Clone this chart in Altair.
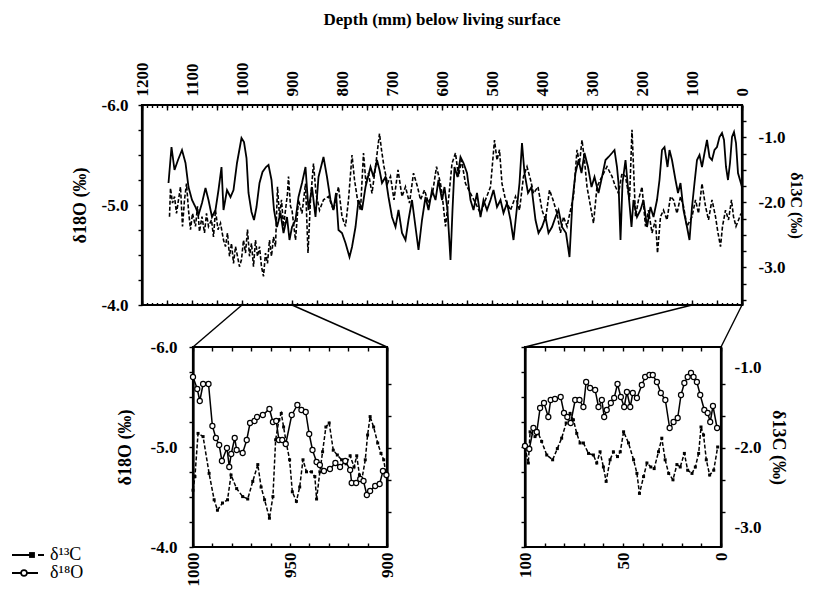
import altair as alt
import pandas as pd

FONT = "Liberation Serif"

TITLE = "Depth (mm) below living surface"
O18_TITLE = "δ18O (‰)"
C13_TITLE = "δ13C (‰)"
LEGEND_LABELS = ["δ¹³C", "δ¹⁸O"]

# ---------------- data (depth mm, value per mil) ----------------
TOP_O18 = [
    (1147, -5.22), (1141, -5.58), (1135, -5.35), (1128, -5.45), (1120, -5.55), (1113, -5.42),
    (1107, -5.18), (1100, -5.05), (1093, -4.98), (1087, -4.90), (1080, -5.02), (1073, -5.17),
    (1067, -5.05), (1060, -4.88), (1053, -4.95), (1047, -5.15), (1041, -5.38), (1037, -4.95),
    (1030, -5.15), (1023, -5.08), (1017, -5.15), (1010, -5.42), (1001, -5.67), (996, -5.63),
    (991, -5.47), (987, -5.12), (981, -4.93), (976, -4.85), (971, -4.98), (965, -5.22),
    (959, -5.33), (952, -5.38), (947, -5.40), (941, -5.25), (936, -4.95), (930, -4.78),
    (923, -4.92), (917, -4.72), (910, -4.88), (905, -4.65), (900, -4.78), (893, -4.85),
    (887, -5.08), (880, -5.22), (873, -5.38), (867, -4.95), (860, -5.18), (853, -4.88),
    (847, -5.28), (837, -5.48), (830, -5.28), (823, -5.05), (817, -4.95), (812, -5.12),
    (807, -4.75), (800, -4.72), (793, -4.62), (785, -4.48), (780, -4.58), (773, -4.78),
    (767, -5.05), (760, -4.95), (753, -5.18), (743, -5.38), (737, -5.28), (730, -5.45),
    (725, -5.35), (720, -5.22), (713, -5.28), (707, -5.08), (700, -4.88), (693, -4.78),
    (687, -4.95), (680, -4.72), (673, -4.65), (667, -4.85), (660, -5.05), (653, -4.78),
    (647, -4.55), (640, -4.85), (633, -5.08), (627, -4.95), (620, -5.15), (613, -5.05),
    (607, -5.25), (600, -5.05), (595, -5.18), (589, -4.95), (583, -4.45), (579, -4.95),
    (575, -5.38), (569, -5.28), (563, -5.48), (557, -5.42), (550, -5.32), (543, -5.05),
    (537, -4.95), (530, -5.12), (523, -4.88), (517, -5.05), (510, -4.95), (503, -5.05),
    (497, -5.15), (490, -4.98), (483, -5.05), (477, -4.92), (470, -5.02), (463, -4.85),
    (457, -4.65), (450, -4.98), (445, -5.22), (440, -5.62), (435, -5.32), (428, -5.12),
    (421, -5.18), (413, -4.85), (407, -4.72), (400, -4.78), (393, -4.88), (387, -4.72),
    (380, -4.78), (373, -4.88), (367, -4.95), (360, -4.78), (352, -4.72), (345, -4.48),
    (339, -5.05), (333, -5.32), (327, -5.45), (321, -5.32), (315, -5.52), (308, -5.38),
    (301, -5.18), (295, -5.28), (287, -5.12), (280, -5.28), (273, -5.45), (267, -5.48),
    (260, -5.52), (255, -5.55), (250, -5.38), (247, -5.22), (243, -4.65), (239, -5.22),
    (233, -5.45), (227, -5.12), (221, -4.78), (217, -5.05), (210, -4.88), (203, -4.95),
    (197, -5.05), (190, -4.78), (183, -4.98), (177, -4.88), (170, -5.05), (165, -5.25),
    (160, -5.55), (155, -5.58), (149, -5.38), (145, -5.55), (140, -5.45), (133, -5.25),
    (128, -5.12), (123, -5.22), (117, -4.95), (110, -4.78), (105, -4.65), (100, -4.98),
    (95, -5.22), (90, -5.45), (85, -5.50), (80, -5.38), (75, -5.52), (70, -5.65),
    (65, -5.48), (60, -5.45), (55, -5.55), (50, -5.58), (45, -5.68), (40, -5.72),
    (36, -5.65), (32, -5.38), (28, -5.25), (24, -5.42), (20, -5.68), (16, -5.73),
    (12, -5.62), (8, -5.32), (4, -5.25), (0, -5.18),
]

TOP_C13 = [
    (1145, -2.22), (1143, -1.78), (1139, -2.01), (1135, -1.91), (1131, -2.17), (1127, -1.96),
    (1123, -1.76), (1119, -2.37), (1115, -1.96), (1111, -1.71), (1107, -2.12), (1103, -2.42),
    (1099, -2.17), (1093, -2.37), (1089, -2.06), (1085, -2.45), (1080, -2.22), (1075, -2.47),
    (1071, -2.17), (1067, -2.37), (1061, -2.27), (1057, -2.53), (1053, -2.12), (1048, -2.42),
    (1043, -2.32), (1037, -2.58), (1033, -2.68), (1029, -2.47), (1025, -2.83), (1021, -2.63),
    (1017, -2.94), (1013, -2.68), (1009, -2.83), (1005, -2.99), (1001, -2.88), (997, -2.58),
    (993, -2.78), (989, -2.42), (985, -2.83), (981, -2.63), (977, -2.99), (973, -2.58),
    (969, -2.83), (965, -2.68), (961, -2.99), (957, -3.14), (953, -2.78), (949, -2.94),
    (945, -2.58), (941, -2.83), (937, -2.53), (933, -2.68), (929, -1.76), (925, -2.22),
    (921, -1.96), (917, -2.37), (913, -2.12), (909, -1.86), (907, -1.60), (903, -2.06),
    (900, -2.12), (893, -2.58), (887, -1.96), (880, -2.17), (873, -1.71), (868, -2.78),
    (863, -1.96), (857, -1.40), (852, -1.86), (845, -2.12), (837, -1.96), (827, -1.91),
    (817, -2.12), (807, -1.76), (800, -2.22), (793, -2.37), (787, -1.96), (780, -1.27),
    (775, -1.65), (769, -1.96), (763, -2.12), (757, -1.24), (752, -1.71), (747, -1.55),
    (740, -1.86), (733, -1.45), (725, -0.94), (721, -1.19), (716, -1.45), (709, -1.71),
    (703, -1.60), (696, -1.96), (688, -1.50), (680, -1.91), (673, -1.76), (665, -2.01),
    (657, -1.55), (649, -1.76), (643, -1.96), (635, -1.81), (627, -2.01), (619, -1.86),
    (611, -1.45), (603, -1.71), (600, -1.86), (593, -2.37), (587, -1.96), (580, -1.40),
    (573, -1.24), (567, -1.60), (561, -1.35), (553, -1.71), (543, -1.86), (533, -2.01),
    (523, -2.17), (513, -1.96), (503, -1.76), (495, -1.04), (490, -1.35), (485, -1.19),
    (480, -1.71), (473, -1.96), (463, -2.12), (453, -1.91), (445, -2.12), (437, -1.60),
    (430, -1.45), (423, -1.65), (417, -1.86), (408, -1.76), (400, -2.12), (393, -2.27),
    (385, -1.81), (378, -1.96), (370, -2.17), (363, -2.47), (357, -2.22), (350, -2.37),
    (343, -2.12), (337, -1.91), (330, -1.19), (325, -1.40), (320, -1.04), (315, -1.35),
    (310, -1.76), (303, -2.06), (297, -2.32), (290, -1.76), (280, -1.60), (270, -1.45),
    (260, -1.60), (253, -1.76), (247, -1.86), (240, -1.55), (233, -1.60), (225, -1.96),
    (220, -0.88), (217, -1.45), (213, -2.22), (207, -1.96), (200, -1.76), (193, -2.37),
    (187, -2.12), (180, -2.47), (173, -2.27), (169, -2.78), (163, -2.22), (157, -2.12),
    (150, -2.27), (143, -1.91), (137, -1.96), (130, -2.17), (123, -1.91), (117, -2.06),
    (110, -2.37), (100, -2.22), (93, -1.96), (87, -2.17), (80, -1.71), (73, -2.06),
    (67, -2.27), (60, -1.96), (53, -2.22), (48, -2.47), (43, -2.68), (39, -2.37),
    (33, -2.12), (27, -2.27), (21, -1.96), (17, -2.22), (12, -2.37), (7, -2.27), (2, -2.17),
]

INS1_O18 = [
    (1000, -5.70), (997.8, -5.58), (996.5, -5.46), (994.8, -5.63), (992.0, -5.63),
    (990.0, -5.21), (988.2, -5.09), (986.5, -5.02), (985.1, -4.86), (982.5, -4.99),
    (981.3, -4.80), (980.3, -4.93), (978.5, -5.09), (977.5, -4.97), (974.4, -4.94),
    (972.3, -5.07), (970.6, -5.24), (968.3, -5.26), (967.0, -5.30), (964.0, -5.32),
    (960.6, -5.38), (958.8, -5.25), (957.1, -5.26), (955.7, -5.07), (954.0, -5.07),
    (952.2, -5.03), (949.1, -5.32), (946.2, -5.42), (944.1, -5.37), (941.9, -5.35),
    (940.1, -5.13), (938.4, -4.97), (936.3, -4.85), (934.6, -4.82), (932.5, -4.76),
    (929.4, -4.78), (926.6, -4.84), (924.2, -4.80), (921.5, -4.86), (919.0, -4.77),
    (918.2, -4.64), (915.9, -4.64), (913.8, -4.68), (912.1, -4.66), (910.4, -4.52),
    (908.7, -4.56), (906.1, -4.61), (903.8, -4.63), (902.1, -4.76), (900.3, -4.72),
]

INS1_C13 = [
    (1000, -2.53), (999, -2.36), (997.4, -1.82), (994.8, -1.86), (991.7, -2.32),
    (989.1, -2.65), (987.4, -2.78), (984.8, -2.69), (982.2, -2.65), (980.4, -2.34),
    (977.5, -2.51), (974.4, -2.61), (971.8, -2.64), (969.2, -2.42), (966.6, -2.21),
    (964.9, -2.49), (963.1, -2.65), (960.6, -2.88), (958.8, -2.61), (957.4, -1.90),
    (955.7, -1.65), (954.5, -1.57), (953.3, -1.74), (951.9, -1.94), (950.2, -2.15),
    (948.8, -2.55), (946.7, -2.67), (945.0, -2.49), (943.3, -2.15), (941.5, -2.30),
    (938.9, -2.30), (937.2, -2.36), (936.3, -2.64), (934.6, -2.30), (933.2, -2.05),
    (931.5, -1.74), (929.8, -1.69), (927.7, -2.03), (925.6, -2.09), (923.4, -2.15),
    (921.1, -2.20), (919.0, -2.10), (917.0, -2.24), (915.6, -2.10), (914.2, -2.34),
    (913.0, -2.40), (911.2, -2.15), (910.0, -1.84), (908.7, -1.61), (906.9, -1.74),
    (904.8, -1.94), (903.1, -2.07), (901.7, -2.15), (900.3, -2.36),
]

INS2_O18 = [
    (100, -5.01), (97.8, -4.98), (95.7, -5.19), (94.0, -5.15), (92.3, -5.39),
    (90.3, -5.44), (88.1, -5.30), (86.9, -5.47), (84.7, -5.48), (81.8, -5.50),
    (80.1, -5.34), (78.4, -5.30), (76.7, -5.24), (74.4, -5.47), (72.2, -5.47),
    (70.2, -5.40), (68.8, -5.65), (66.8, -5.59), (64.2, -5.57), (62.5, -5.40),
    (60.8, -5.47), (59.6, -5.30), (58.3, -5.37), (56.2, -5.44), (54.5, -5.49),
    (52.8, -5.63), (51.1, -5.50), (49.4, -5.40), (48.0, -5.55), (46.3, -5.40),
    (45.0, -5.54), (42.9, -5.49), (40.4, -5.62), (38.7, -5.70), (36.5, -5.72),
    (34.8, -5.72), (32.7, -5.65), (30.7, -5.54), (28.4, -5.47), (26.2, -5.19),
    (24.2, -5.25), (22.1, -5.29), (20.4, -5.52), (18.7, -5.64), (17.0, -5.70),
    (15.3, -5.74), (14.0, -5.70), (12.3, -5.65), (10.6, -5.52), (8.5, -5.37),
    (6.8, -5.34), (5.5, -5.25), (4.1, -5.41), (2.0, -5.19),
]

INS2_C13 = [
    (100, -1.99), (98.3, -2.19), (97.4, -1.80), (94.9, -1.86), (93.2, -1.82),
    (91.5, -1.92), (88.9, -2.09), (85.9, -2.15), (83.5, -2.01), (81.3, -1.88),
    (79.0, -1.69), (77.0, -1.57), (75.3, -1.65), (73.6, -1.82), (71.9, -1.94),
    (70.2, -1.94), (67.6, -2.07), (65.1, -2.09), (63.4, -2.19), (61.7, -2.05),
    (60.0, -2.24), (58.6, -2.42), (56.6, -2.15), (54.9, -2.05), (52.8, -2.11),
    (51.4, -2.05), (49.7, -1.80), (47.2, -1.94), (44.6, -2.15), (42.9, -2.32),
    (41.6, -2.57), (39.5, -2.36), (37.8, -2.19), (35.8, -2.24), (34.1, -2.26),
    (31.9, -2.05), (30.2, -1.88), (28.5, -2.15), (26.7, -2.32), (24.5, -2.40),
    (22.5, -2.21), (20.8, -2.24), (18.7, -2.07), (17.0, -2.28), (14.8, -2.32),
    (13.1, -2.24), (11.4, -2.07), (10.2, -1.74), (8.9, -1.84), (7.5, -2.15),
    (5.8, -2.34), (3.7, -2.28), (1.7, -1.99),
]

# axis domains and ticks
TOP_DEPTH = [1200, 0]
ZOOM1 = [1000, 900]
ZOOM2 = [100, 0]
O18_DOMAIN = [-6.0, -4.0]
C13_TOP_DOMAIN = [-0.5, -3.58]
C13_INS_DOMAIN = [-0.74, -3.24]
TOP_MAJOR = list(range(0, 1201, 50))
TOP_MINOR = list(range(0, 1201, 10))
INS1_TICKS = list(range(900, 1001, 10))
INS2_TICKS = list(range(0, 101, 10))
O18_TICKS = [-6.0, -5.75, -5.5, -5.25, -5.0, -4.75, -4.5, -4.25, -4.0]
C13_TOP_TICKS = [-0.75, -1.0, -1.25, -1.5, -1.75, -2.0, -2.25, -2.5, -2.75, -3.0, -3.25, -3.5]
C13_INS_LABELS = [-1.0, -2.0, -3.0]
C13_INS_TICKS = [-1.2, -1.6, -2.0, -2.4, -2.8]

# ---------------- layout (pixels inside the plot area) ----------------
W, H = 600, 442
TOP_RANGE = [0, 200]
INS_RANGE = [242, 442]
INS1_X = [51, 245]
INS2_X = [383, 579]

EXPR_1 = ("abs(datum.value - round(datum.value)) < 0.001 ? "
          "(datum.value < 0 ? '-' : '') + format(abs(datum.value), '.1f') : ''")
EXPR_100 = "datum.value % 100 == 0 ? format(datum.value, 'd') : ''"
EXPR_50 = "datum.value % 50 == 0 ? format(datum.value, 'd') : ''"


def sc(domain, rng):
    return alt.Scale(domain=domain, range=rng, nice=False, zero=False)


sx_top = sc(TOP_DEPTH, [0, W])
sy18_top = sc(O18_DOMAIN, TOP_RANGE)
sy13_top = sc(C13_TOP_DOMAIN, TOP_RANGE)
sx_i1 = sc(ZOOM1, INS1_X)
sx_i2 = sc(ZOOM2, INS2_X)
sy18_in = sc(O18_DOMAIN, INS_RANGE)
sy13_in = sc(C13_INS_DOMAIN, INS_RANGE)


def ax(orient, values, labels=False, expr=None, tick=4.0, offset=0, domain=False, title=None, **kw):
    p = dict(orient=orient, values=values, grid=False,
             ticks=tick > 0, tickSize=tick, tickColor="black", tickWidth=1.4,
             domain=domain, domainColor="black", domainWidth=2.2,
             labels=labels, labelFont=FONT, labelFontSize=17, labelFontWeight="bold",
             labelColor="black", labelFlush=False, labelOverlap=False, offset=offset,
             titleFont=FONT, titleFontSize=18, titleFontWeight="bold", titleColor="black",
             title=title)
    if expr:
        p["labelExpr"] = expr
    p.update(kw)
    return alt.Axis(**p)


def frame(pairs):
    return pd.DataFrame(pairs, columns=["d", "v"])


def box(xd, yd):
    return pd.DataFrame({"x": [xd[0]], "x2": [xd[1]], "y": [yd[0]], "y2": [yd[1]]})


layers = []

# --- top panel frame + minor tick axes ---
layers.append(
    alt.Chart(box(TOP_DEPTH, O18_DOMAIN)).mark_rect(fillOpacity=0, stroke="black", strokeWidth=2.2).encode(
        x=alt.X("x:Q", scale=sx_top, axis=ax("top", TOP_MINOR, tick=2.5, offset=-2.5)),
        x2="x2:Q",
        y=alt.Y("y:Q", scale=sy18_top, axis=None),
        y2="y2:Q",
    )
)
layers.append(
    alt.Chart(box(TOP_DEPTH, O18_DOMAIN)).mark_rect(opacity=0).encode(
        x=alt.X("x:Q", scale=sx_top, axis=ax("bottom", TOP_MINOR, tick=2.5, offset=TOP_RANGE[1] - 2.5 - H)),
        x2="x2:Q",
        y=alt.Y("y:Q", scale=sy18_top, axis=None),
        y2="y2:Q",
    )
)

# --- top panel series ---
layers.append(
    alt.Chart(frame(TOP_O18)).mark_line(color="black", strokeWidth=1.8).encode(
        x=alt.X("d:Q", scale=sx_top,
                axis=ax("top", TOP_MAJOR, labels=True, expr=EXPR_100, tick=5, offset=-5,
                        labelAngle=270, labelAlign="left", labelBaseline="middle", labelPadding=9)),
        y=alt.Y("v:Q", scale=sy18_top,
                axis=ax("left", O18_TICKS, labels=True, expr=EXPR_1, tick=4, domain=True,
                        labelPadding=10, title=O18_TITLE, titlePadding=12)),
    )
)
layers.append(
    alt.Chart(frame(TOP_C13)).mark_line(color="black", strokeWidth=1.6, strokeDash=[4, 2]).encode(
        x=alt.X("d:Q", scale=sx_top,
                axis=ax("bottom", TOP_MAJOR, tick=5, offset=TOP_RANGE[1] - 5 - H)),
        y=alt.Y("v:Q", scale=sy13_top,
                axis=ax("right", C13_TOP_TICKS, labels=True, expr=EXPR_1, tick=4, domain=True,
                        labelPadding=12, title=C13_TITLE, titlePadding=3, titleFontSize=16)),
    )
)

# --- connectors between the record and the enlarged windows ---
for depth, px in [(ZOOM1[0], INS1_X[0]), (ZOOM1[1], INS1_X[1]),
                  (ZOOM2[0], INS2_X[0]), (ZOOM2[1], INS2_X[1])]:
    layers.append(
        alt.Chart(pd.DataFrame({"d": [depth]})).mark_rule(color="black", strokeWidth=1.4).encode(
            x=alt.X("d:Q", scale=sx_top, axis=None),
            x2=alt.value(px),
            y=alt.value(TOP_RANGE[1]),
            y2=alt.value(INS_RANGE[0]),
        )
    )

# --- inset 1 (1000-900 mm) ---
layers.append(
    alt.Chart(box(ZOOM1, O18_DOMAIN)).mark_rect(fillOpacity=0, stroke="black", strokeWidth=2.2).encode(
        x=alt.X("x:Q", scale=sx_i1, axis=None), x2="x2:Q",
        y=alt.Y("y:Q", scale=sy18_in, axis=None), y2="y2:Q",
    )
)
layers.append(
    alt.Chart(frame(INS1_C13)).mark_line(color="black", strokeWidth=1.5, strokeDash=[4, 2]).encode(
        x=alt.X("d:Q", scale=sx_i1, axis=ax("top", INS1_TICKS, tick=4, offset=-(INS_RANGE[0] + 4))),
        y=alt.Y("v:Q", scale=sy13_in,
                axis=ax("right", C13_INS_TICKS, tick=4, offset=INS1_X[1] - W, domain=True)),
    )
)
layers.append(
    alt.Chart(frame(INS1_C13)).mark_square(color="black", size=9, opacity=1).encode(
        x=alt.X("d:Q", scale=sx_i1, axis=None),
        y=alt.Y("v:Q", scale=sy13_in, axis=None),
    )
)
layers.append(
    alt.Chart(frame(INS1_O18)).mark_line(color="black", strokeWidth=1.5).encode(
        x=alt.X("d:Q", scale=sx_i1,
                axis=ax("bottom", INS1_TICKS, labels=True, expr=EXPR_50, tick=4, offset=-4,
                        labelAngle=270, labelAlign="right", labelBaseline="middle", labelPadding=5)),
        y=alt.Y("v:Q", scale=sy18_in,
                axis=ax("left", O18_TICKS, labels=True, expr=EXPR_1, tick=4, offset=-INS1_X[0],
                        domain=True, labelPadding=12, title=O18_TITLE, titlePadding=16)),
    )
)
layers.append(
    alt.Chart(frame(INS1_O18)).mark_circle(fill="white", stroke="black", strokeWidth=1.2, size=26, opacity=1).encode(
        x=alt.X("d:Q", scale=sx_i1, axis=None),
        y=alt.Y("v:Q", scale=sy18_in, axis=None),
    )
)

# --- inset 2 (100-0 mm) ---
layers.append(
    alt.Chart(box(ZOOM2, O18_DOMAIN)).mark_rect(fillOpacity=0, stroke="black", strokeWidth=2.2).encode(
        x=alt.X("x:Q", scale=sx_i2, axis=None), x2="x2:Q",
        y=alt.Y("y:Q", scale=sy18_in, axis=None), y2="y2:Q",
    )
)
layers.append(
    alt.Chart(frame(INS2_C13)).mark_line(color="black", strokeWidth=1.5, strokeDash=[4, 2]).encode(
        x=alt.X("d:Q", scale=sx_i2, axis=ax("top", INS2_TICKS, tick=4, offset=-(INS_RANGE[0] + 4))),
        y=alt.Y("v:Q", scale=sy13_in,
                axis=ax("right", C13_INS_LABELS, labels=True, expr=EXPR_1, tick=0,
                        offset=INS2_X[1] - W, domain=True, labelPadding=13,
                        title=C13_TITLE, titlePadding=8)),
    )
)
layers.append(
    alt.Chart(frame(INS2_C13)).mark_square(color="black", size=9, opacity=1).encode(
        x=alt.X("d:Q", scale=sx_i2, axis=None),
        y=alt.Y("v:Q", scale=sy13_in,
                axis=ax("right", C13_INS_TICKS, tick=4, offset=INS2_X[1] - W)),
    )
)
layers.append(
    alt.Chart(frame(INS2_O18)).mark_line(color="black", strokeWidth=1.5).encode(
        x=alt.X("d:Q", scale=sx_i2,
                axis=ax("bottom", INS2_TICKS, labels=True, expr=EXPR_50, tick=4, offset=-4,
                        labelAngle=270, labelAlign="right", labelBaseline="middle", labelPadding=5)),
        y=alt.Y("v:Q", scale=sy18_in,
                axis=ax("left", O18_TICKS, tick=4, offset=-INS2_X[0], domain=True)),
    )
)
layers.append(
    alt.Chart(frame(INS2_O18)).mark_circle(fill="white", stroke="black", strokeWidth=1.2, size=26, opacity=1).encode(
        x=alt.X("d:Q", scale=sx_i2, axis=None),
        y=alt.Y("v:Q", scale=sy18_in, axis=None),
    )
)

# --- legend (bottom left) ---
LEG_Y = [450, 468]
leg13 = pd.DataFrame({"label": [LEGEND_LABELS[0]]})
leg18 = pd.DataFrame({"label": [LEGEND_LABELS[1]]})
layers += [
    alt.Chart(leg13).mark_rule(color="black", strokeWidth=2).encode(
        x=alt.value(-130), x2=alt.value(-111), y=alt.value(LEG_Y[0])),
    alt.Chart(leg13).mark_square(color="black", size=34, opacity=1).encode(
        x=alt.value(-110), y=alt.value(LEG_Y[0])),
    alt.Chart(leg13).mark_rule(color="black", strokeWidth=2).encode(
        x=alt.value(-104), x2=alt.value(-98), y=alt.value(LEG_Y[0])),
    alt.Chart(leg13).mark_text(align="left", baseline="middle", font=FONT, fontSize=18, color="black").encode(
        x=alt.value(-92), y=alt.value(LEG_Y[0]), text="label:N"),
    alt.Chart(leg18).mark_rule(color="black", strokeWidth=2).encode(
        x=alt.value(-130), x2=alt.value(-104), y=alt.value(LEG_Y[1])),
    alt.Chart(leg18).mark_circle(fill="white", stroke="black", strokeWidth=1.6, size=34, opacity=1).encode(
        x=alt.value(-118), y=alt.value(LEG_Y[1])),
    alt.Chart(leg18).mark_text(align="left", baseline="middle", font=FONT, fontSize=18, color="black").encode(
        x=alt.value(-92), y=alt.value(LEG_Y[1]), text="label:N"),
]

chart = alt.layer(*layers).resolve_scale(x="independent", y="independent").properties(
    width=W,
    height=H,
    autosize=alt.AutoSizeParams(type="none"),
    padding={"left": 134, "top": 97, "right": 66, "bottom": 45},
    title=alt.TitleParams(TITLE, font=FONT, fontSize=17, fontWeight="bold", color="black",
                          anchor="middle", frame="group", offset=33),
).configure_view(stroke=None)

chart.save("out.html", embed_options={"renderer": "svg", "actions": False})
